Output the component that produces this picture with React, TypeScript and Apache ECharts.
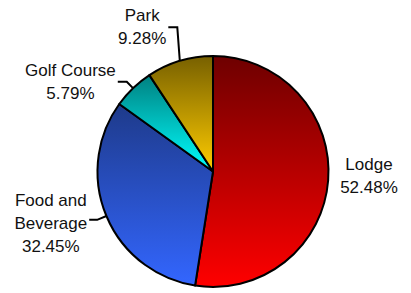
import React, { useEffect, useRef } from 'react';
import * as echarts from 'echarts';

// ---- data ----
const categories = ['Lodge', 'Food and Beverage', 'Golf Course', 'Park'];
const values = [52.48, 32.45, 5.79, 9.28];

// ---- styles ----
const topColors = ['#6e0000', '#1e3a8a', '#008080', '#776000'];
const bottomColors = ['#ff0000', '#3366ff', '#00ffff', '#ffcc00'];
const labelLineStyle: Record<string, { length: number; length2: number; show: boolean; padding?: number[]; vertical?: boolean }> = {
  'Lodge': { length: 5, length2: 5, show: false, padding: [0, 0, 10, 0] },
  'Food and Beverage': { length: 10, length2: 8, show: true, padding: [8, 0, 0, 0] },
  'Golf Course': { length: 9, length2: 9, show: true },
  'Park': { length: 35, length2: 9, show: true, vertical: true },
};

const FONT = "'Liberation Sans', Arial, Helvetica, sans-serif";

export default function App() {
  const ref = useRef<HTMLDivElement>(null);
  useEffect(() => {
    if (!ref.current) return;
    const chart = echarts.init(ref.current, undefined, { renderer: 'svg' });
    const data = categories.map((name, i) => {
      const st = labelLineStyle[name];
      return {
        name,
        value: values[i],
        itemStyle: {
          color: new echarts.graphic.LinearGradient(0, 0, 0, 1, [
            { offset: 0, color: topColors[i] },
            { offset: 1, color: bottomColors[i] },
          ]),
        },
        label: st.padding ? { padding: st.padding } : {},
        labelLine: { show: st.show, length: st.length, length2: st.length2 },
      };
    });
    chart.setOption({
      animation: false,
      series: [
        {
          type: 'pie',
          center: [213, 171.5],
          radius: 115.5,
          startAngle: 90,
          clockwise: true,
          avoidLabelOverlap: true,
          data,
          itemStyle: { borderColor: '#000', borderWidth: 2 },
          emphasis: { disabled: true },
          label: {
            show: true,
            position: 'outside',
            distanceToLabelLine: 2,
            bleedMargin: 2,
            color: '#111',
            fontFamily: FONT,
            fontSize: 17,
            lineHeight: 23,
            formatter: (p: any) => {
              const name: string = p.name.length > 12 ? p.name.replace(/ (\S+)$/, '\n$1') : p.name;
              const lines = name.split('\n').map((l) => `{c|${l}}`);
              lines.push(`{c|${Number(p.percent).toFixed(2)}%}`);
              return lines.join('\n');
            },
            rich: {
              c: { align: 'center', fontFamily: FONT, fontSize: 17, lineHeight: 23, color: '#111' },
            },
          },
          labelLine: { lineStyle: { color: '#000', width: 2 }, smooth: false },
          labelLayout: (params: any) => {
            const name = categories[params.dataIndex];
            const st = labelLineStyle[name];
            const pts = params.labelLinePoints;
            if (!st || !st.vertical || !pts || pts.length < 3) return {};
            const p0 = pts[0];
            const p1 = [p0[0] - 2.5, pts[1][1]];
            const p2 = [p1[0] - st.length2, p1[1]];
            const shift = p2[0] - pts[2][0];
            return {
              x: params.labelRect.x + shift,
              y: params.labelRect.y,
              align: 'left',
              verticalAlign: 'top',
              labelLinePoints: [p0, p1, p2],
            };
          },
        },
      ],
    });
    return () => chart.dispose();
  }, []);
  return <div ref={ref} style={{ position: 'fixed', left: 0, top: 0, width: 411, height: 293, background: '#fff' }} />;
}
